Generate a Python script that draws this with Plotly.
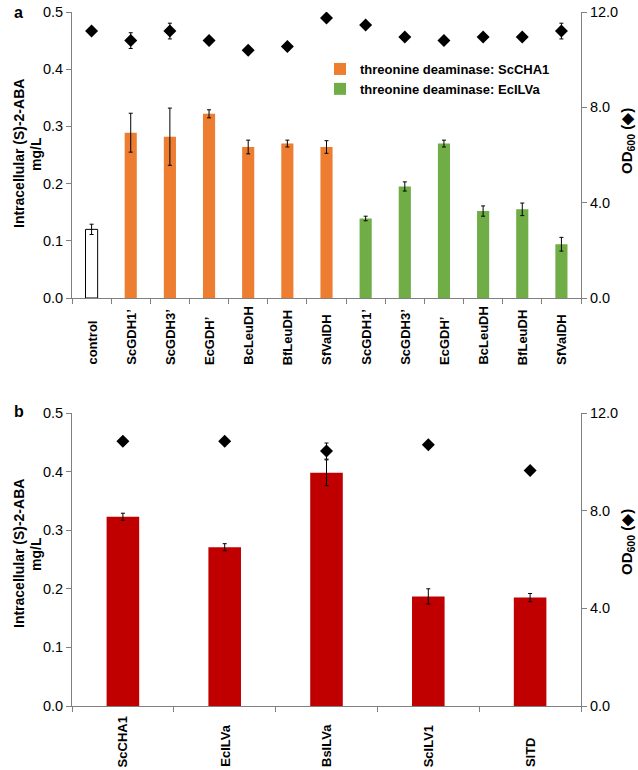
import plotly.graph_objects as go

# ---- data (panel a) ----
cats_a = ["control", "ScGDH1’", "ScGDH3’", "EcGDH’", "BcLeuDH", "BfLeuDH", "SfValDH",
          "ScGDH1’", "ScGDH3’", "EcGDH’", "BcLeuDH", "BfLeuDH", "SfValDH"]
control_aba = [0.120]
control_err = [0.009]
cha1_aba = [0.289, 0.282, 0.322, 0.264, 0.270, 0.264]
cha1_err = [0.034, 0.050, 0.007, 0.012, 0.006, 0.011]
ilva_aba = [0.139, 0.195, 0.270, 0.152, 0.155, 0.094]
ilva_err = [0.004, 0.008, 0.006, 0.009, 0.011, 0.012]
od_a = [11.2, 10.8, 11.2, 10.8, 10.4, 10.55, 11.75, 11.45, 10.95, 10.8, 10.95, 10.95, 11.2]
od_a_err = [0.0, 0.33, 0.33, 0.05, 0.05, 0.15, 0.12, 0.12, 0.1, 0.05, 0.1, 0.1, 0.33]

# ---- data (panel b) ----
cats_b = ["ScCHA1", "EcILVa", "BsILVa", "ScILV1", "SlTD"]
aba_b = [0.323, 0.271, 0.398, 0.187, 0.185]
aba_b_err = [0.006, 0.006, 0.022, 0.013, 0.007]
od_b = [10.84, 10.84, 10.44, 10.70, 9.64]
od_b_err = [0.0, 0.0, 0.33, 0.12, 0.0]

idx_a = list(range(len(cats_a)))
idx_b = list(range(len(cats_b)))

FONT = "Liberation Sans, Arial, sans-serif"
ORANGE = "#ED7D31"
GREEN = "#70AD47"
RED = "#C00000"
AXC = "#808080"

# plot area in pixels
L, R, T, B = 72, 57, 12, 64
W, H = 638, 770
PW, PH = W - L - R, H - T - B

def px_x(x):
    return (x - L) / PW

def px_y(y):
    return (H - B - y) / PH

fig = go.Figure()

eb = lambda arr: dict(type="data", array=arr, visible=True, color="black", thickness=1, width=2)

fig.add_trace(go.Bar(x=idx_a[:1], y=control_aba, error_y=eb(control_err), width=0.31,
                     marker=dict(color="white", line=dict(color="black", width=1)),
                     showlegend=False, xaxis="x", yaxis="y"))
fig.add_trace(go.Bar(x=idx_a[1:7], y=cha1_aba, error_y=eb(cha1_err), width=0.31,
                     marker=dict(color=ORANGE, line=dict(width=0)),
                     name="<b>threonine deaminase: ScCHA1</b>", xaxis="x", yaxis="y"))
fig.add_trace(go.Bar(x=idx_a[7:], y=ilva_aba, error_y=eb(ilva_err), width=0.31,
                     marker=dict(color=GREEN, line=dict(width=0)),
                     name="<b>threonine deaminase: EcILVa</b>", xaxis="x", yaxis="y"))
fig.add_trace(go.Scatter(x=idx_a, y=od_a, mode="markers", error_y=eb(od_a_err),
                         marker=dict(symbol="diamond", size=10, color="black"),
                         showlegend=False, xaxis="x", yaxis="y3"))

fig.add_trace(go.Bar(x=idx_b, y=aba_b, error_y=eb(aba_b_err), width=0.32,
                     marker=dict(color=RED, line=dict(width=0)),
                     showlegend=False, xaxis="x2", yaxis="y2"))
fig.add_trace(go.Scatter(x=idx_b, y=od_b, mode="markers", error_y=eb(od_b_err),
                         marker=dict(symbol="diamond", size=10, color="black"),
                         showlegend=False, xaxis="x2", yaxis="y4"))

tickfont = dict(family=FONT, size=14.5, color="black")
titlefont = dict(family=FONT, size=14, color="black")
rtitlefont = dict(family=FONT, size=15, color="black")
catfont = dict(family=FONT, size=13, color="black")

def xax(n, anchor):
    return dict(
        range=[-0.5, n - 0.5], showticklabels=False, ticks="",
        showline=True, linecolor=AXC, linewidth=1,
        showgrid=False, zeroline=False, anchor=anchor, automargin=False,
        minor=dict(ticks="outside", tick0=-0.5, dtick=1, ticklen=5, tickcolor=AXC, showgrid=False),
    )

def yleft(domain):
    return dict(domain=domain, range=[0, 0.5], dtick=0.1, tickformat=".1f",
                ticks="outside", ticklen=5, tickcolor=AXC, showline=True, linecolor=AXC,
                showgrid=False, zeroline=False, tickfont=tickfont, automargin=False)

def yright(overlay):
    return dict(overlaying=overlay, side="right", range=[0, 12], tickvals=[0, 4, 8, 12],
                tickformat=".1f", ticks="outside", ticklen=5, tickcolor=AXC, showline=True,
                linecolor=AXC, showgrid=False, zeroline=False, tickfont=tickfont, automargin=False)

ann = []
for lab, ypx in (("a", 12), ("b", 411)):
    ann.append(dict(text="<b>%s</b>" % lab, xref="paper", yref="paper", x=px_x(12), y=px_y(ypx),
                    xanchor="left", yanchor="middle", showarrow=False,
                    font=dict(family=FONT, size=16, color="black")))
for yl, yr in ((154, 141), (554, 542)):
    ann.append(dict(text="<b>Intracellular (S)-2-ABA</b>", xref="paper", yref="paper",
                    x=px_x(19), y=px_y(yl), xanchor="center", yanchor="middle", textangle=-90,
                    showarrow=False, font=titlefont))
    ann.append(dict(text="<b>mg/L</b>", xref="paper", yref="paper",
                    x=px_x(36), y=px_y(yl), xanchor="center", yanchor="middle", textangle=-90,
                    showarrow=False, font=titlefont))
    ann.append(dict(text="<b>OD<sub>600</sub> (◆)</b>", xref="paper", yref="paper",
                    x=px_x(627), y=px_y(yr), xanchor="center", yanchor="middle", textangle=-90,
                    showarrow=False, font=rtitlefont))
# category labels (rotated, bottom-aligned like the original)
for i, c in zip(idx_a, cats_a):
    ann.append(dict(text="<b>%s</b>" % c, xref="x", yref="paper", x=i, y=px_y(367),
                    xanchor="center", yanchor="bottom", textangle=-90, showarrow=False, font=catfont))
for i, c in zip(idx_b, cats_b):
    ann.append(dict(text="<b>%s</b>" % c, xref="x2", yref="paper", x=i, y=px_y(769),
                    xanchor="center", yanchor="bottom", textangle=-90, showarrow=False, font=catfont))

fig.update_layout(
    width=W, height=H,
    margin=dict(l=L, r=R, t=T, b=B),
    paper_bgcolor="white", plot_bgcolor="white",
    font=dict(family=FONT, color="black"),
    barmode="overlay",
    xaxis=xax(len(cats_a), "y"),
    xaxis2=xax(len(cats_b), "y2"),
    yaxis=yleft([px_y(298), px_y(12)]),
    yaxis2=yleft([px_y(706), px_y(413)]),
    yaxis3=yright("y"),
    yaxis4=yright("y2"),
    legend=dict(x=px_x(320), y=px_y(54), xanchor="left", yanchor="top", bgcolor="rgba(0,0,0,0)",
                font=dict(family=FONT, size=13, color="black"), itemwidth=30,
                tracegroupgap=0, traceorder="normal"),
    annotations=ann,
)

fig.write_html("out.html", config={"displayModeBar": False},
               post_script="document.body.style.margin='0';")
